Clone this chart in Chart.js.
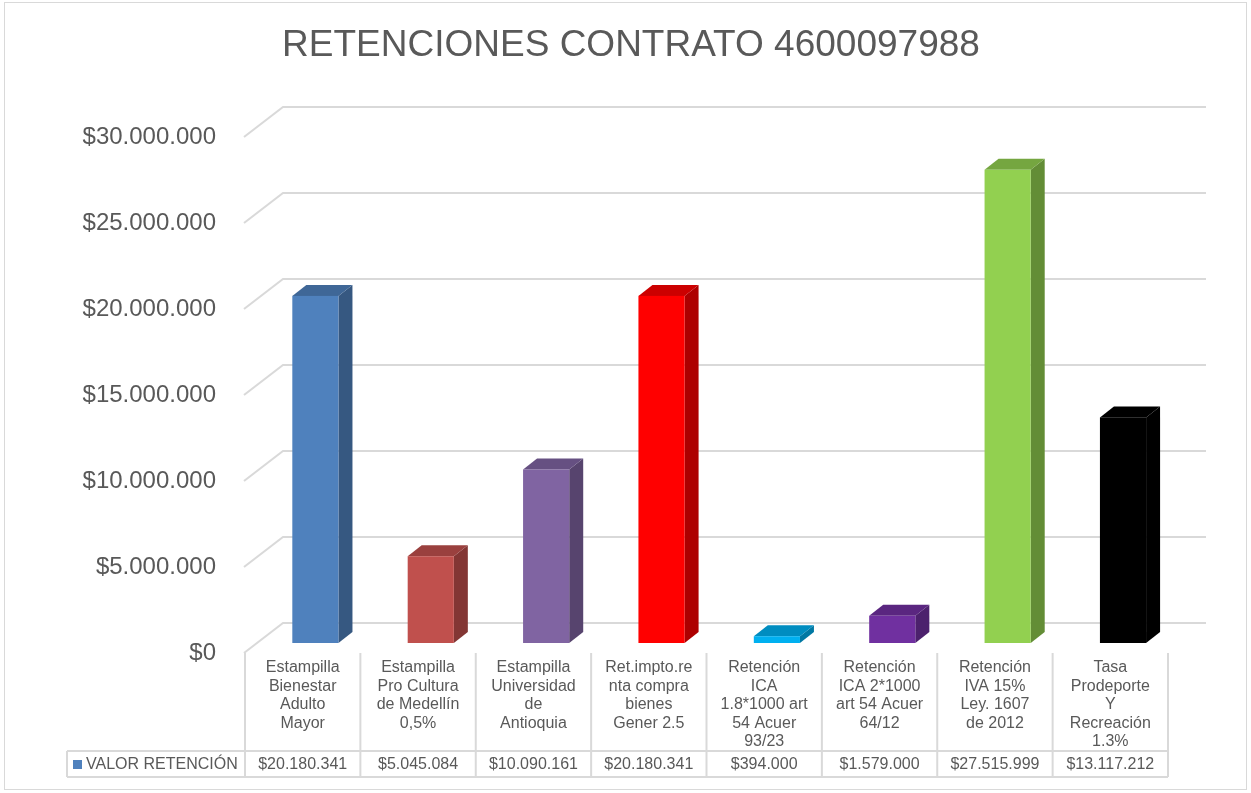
<!DOCTYPE html>
<html><head><meta charset="utf-8">
<script src="https://cdn.jsdelivr.net/npm/chart.js@4"></script>
<style>html,body{margin:0;padding:0;background:#fff}canvas{display:block}</style>
</head><body>
<canvas id="c" width="1251" height="793"></canvas>
<script>
const chartTitle = 'RETENCIONES CONTRATO 4600097988';
const seriesName = 'VALOR RETENCIÓN';
const categories = [
  ['Estampilla','Bienestar','Adulto','Mayor'],
  ['Estampilla','Pro Cultura','de Medellín','0,5%'],
  ['Estampilla','Universidad','de','Antioquia'],
  ['Ret.impto.re','nta compra','bienes','Gener 2.5'],
  ['Retención','ICA','1.8*1000 art','54 Acuer','93/23'],
  ['Retención','ICA 2*1000','art 54 Acuer','64/12'],
  ['Retención','IVA 15%','Ley. 1607','de 2012'],
  ['Tasa','Prodeporte','Y','Recreación','1.3%']
];
const values = [20180341, 5045084, 10090161, 20180341, 394000, 1579000, 27515999, 13117212];
const barColors = ['#4F81BD','#C0504D','#8064A2','#FF0000','#00B0F0','#7030A0','#92D050','#000000'];
const yMin = 0, yMax = 30000000, yStep = 5000000;

const FONT = '"Liberation Sans", Arial, sans-serif';
const TEXT = '#595959';
const LINE = '#d9d9d9';

function fmt(v){ return '$' + String(v).replace(/\B(?=(\d{3})+(?!\d))/g, '.'); }
function shade(hex, f){
  const n = parseInt(hex.slice(1),16);
  const r = Math.round(((n>>16)&255)*f), g = Math.round(((n>>8)&255)*f), b = Math.round((n&255)*f);
  return `rgb(${r},${g},${b})`;
}

// depth geometry
const WALL_DX = 38, WALL_DY = -30;   // back wall offset
const BAR_DX = 12.7, BAR_DY = -10;   // bar front plane offset
const BD_X = 14, BD_Y = -11;         // bar depth

const threeD = {
  id: 'threeD',
  beforeDraw(chart){
    const ctx = chart.ctx;
    ctx.save();
    ctx.fillStyle = '#fff';
    ctx.fillRect(0,0,chart.width,chart.height);
    ctx.strokeStyle = LINE; ctx.lineWidth = 1;
    ctx.strokeRect(4.5, 2.5, chart.width - 9, chart.height - 6);
    // title
    ctx.fillStyle = TEXT;
    ctx.font = '37px ' + FONT;
    ctx.textAlign = 'center'; ctx.textBaseline = 'middle';
    ctx.fillText(chartTitle, 631, 46);
    ctx.restore();
  },
  beforeDatasetsDraw(chart){
    const ctx = chart.ctx, y = chart.scales.y, ca = chart.chartArea;
    ctx.save();
    ctx.strokeStyle = LINE; ctx.lineWidth = 2;
    y.ticks.forEach(t => {
      const py = y.getPixelForValue(t.value);
      ctx.beginPath();
      ctx.moveTo(ca.left - 1, py);
      ctx.lineTo(ca.left + WALL_DX, py + WALL_DY);
      ctx.lineTo(ca.right + WALL_DX, py + WALL_DY);
      ctx.stroke();
    });
    ctx.restore();
  },
  afterDatasetsDraw(chart){
    const ctx = chart.ctx;
    const meta = chart.getDatasetMeta(0);
    ctx.save();
    meta.data.forEach((el, i) => {
      const p = el.getProps(['x','y','base','width'], true);
      const col = barColors[i];
      const l = p.x - p.width/2 + BAR_DX, r = p.x + p.width/2 + BAR_DX;
      const t = p.y + BAR_DY, b = p.base + BAR_DY;
      ctx.fillStyle = col === '#000000' ? '#000' : shade(col, 0.68);
      ctx.beginPath();
      ctx.moveTo(r, t); ctx.lineTo(r + BD_X, t + BD_Y); ctx.lineTo(r + BD_X, b + BD_Y); ctx.lineTo(r, b);
      ctx.closePath(); ctx.fill();
      ctx.fillStyle = col === '#000000' ? '#000' : shade(col, 0.8);
      ctx.beginPath();
      ctx.moveTo(l, t); ctx.lineTo(l + BD_X, t + BD_Y); ctx.lineTo(r + BD_X, t + BD_Y); ctx.lineTo(r, t);
      ctx.closePath(); ctx.fill();
      ctx.fillStyle = col;
      ctx.fillRect(l, t, r - l, b - t);
    });
    ctx.restore();
  },
  afterDraw(chart){
    const ctx = chart.ctx, x = chart.scales.x, ca = chart.chartArea;
    const n = categories.length, cw = (ca.right - ca.left) / n;
    const top = ca.bottom, rowTop = top + 98, rowBot = top + 124, legL = 67;
    ctx.save();
    ctx.strokeStyle = LINE; ctx.lineWidth = 2;
    ctx.beginPath();
    for (let k = 0; k <= n; k++){
      const px = ca.left + k*cw;
      ctx.moveTo(px, top); ctx.lineTo(px, rowBot);
    }
    ctx.moveTo(legL, rowTop); ctx.lineTo(ca.right, rowTop);
    ctx.moveTo(legL, rowBot); ctx.lineTo(ca.right, rowBot);
    ctx.moveTo(legL, rowTop); ctx.lineTo(legL, rowBot);
    ctx.stroke();

    ctx.fillStyle = TEXT;
    ctx.font = '16px ' + FONT;
    ctx.textAlign = 'center'; ctx.textBaseline = 'middle';
    categories.forEach((lines, i) => {
      const cx = x.getPixelForValue(i);
      lines.forEach((s, j) => ctx.fillText(s, cx, top + 15 + j*18.5));
      ctx.fillText(fmt(values[i]), cx, (rowTop + rowBot)/2 + 1);
    });
    ctx.fillStyle = barColors[0];
    ctx.fillRect(73, (rowTop + rowBot)/2 - 4, 9, 9);
    ctx.fillStyle = TEXT;
    ctx.textAlign = 'left';
    ctx.fillText(seriesName, 86, (rowTop + rowBot)/2 + 1);
    ctx.restore();
  }
};

new Chart(document.getElementById('c'), {
  type: 'bar',
  data: {
    labels: categories,
    datasets: [{
      label: seriesName,
      data: values,
      backgroundColor: 'rgba(0,0,0,0)',
      borderWidth: 0,
      barPercentage: 0.4,
      categoryPercentage: 1
    }]
  },
  options: {
    responsive: false,
    animation: false,
    layout: { padding: { top: 137, left: 0, right: 83, bottom: 140 } },
    plugins: {
      legend: { display: false },
      tooltip: { enabled: false },
      title: { display: false }
    },
    scales: {
      x: { display: false },
      y: {
        min: yMin, max: yMax,
        afterFit(s){ s.width = 245; },
        grid: { display: false, drawTicks: false },
        border: { display: false },
        ticks: {
          stepSize: yStep, padding: 29, color: TEXT,
          font: { family: FONT, size: 24 },
          callback: v => fmt(v)
        }
      }
    }
  },
  plugins: [threeD]
});
</script>
</body></html>
